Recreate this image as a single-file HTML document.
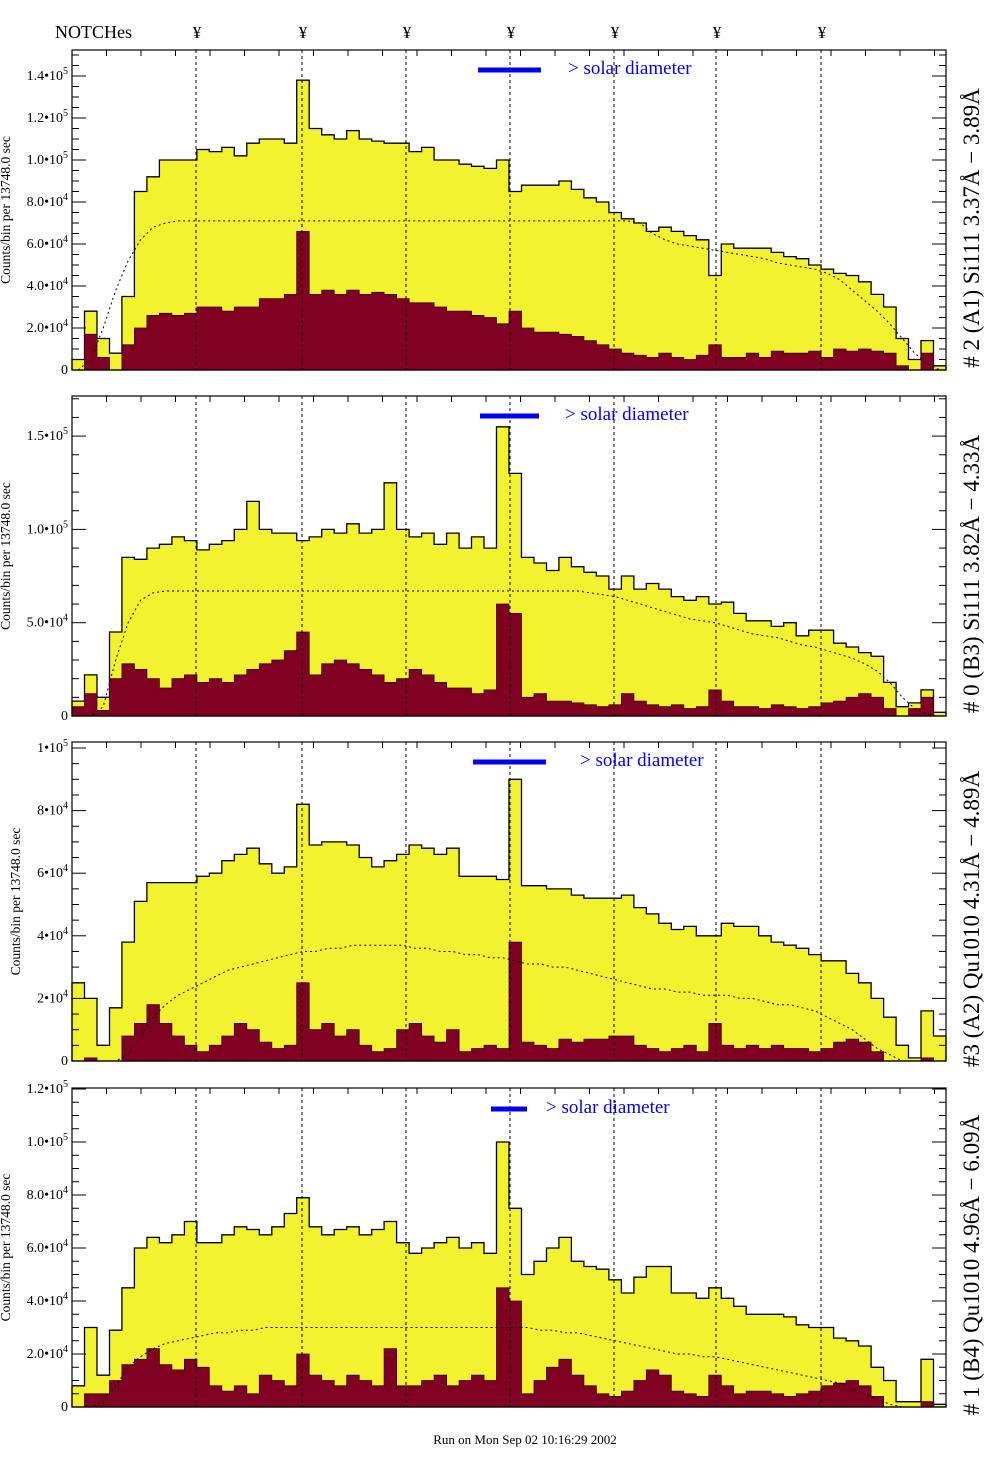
<!DOCTYPE html>
<html><head><meta charset="utf-8"><style>
html,body{margin:0;padding:0;background:#fff;}
svg{display:block;font-family:"Liberation Serif",serif;}
</style></head><body>
<svg id="chart" width="1004" height="1477" viewBox="0 0 1004 1477" xmlns="http://www.w3.org/2000/svg">
<text x="55" y="38" font-size="18">NOTCHes</text>
<text x="525" y="1444" font-size="13" text-anchor="middle">Run on Mon Sep 02 10:16:29 2002</text>
</svg>
<script>
const binCount = 70;
const notchPositions = [196, 302, 406, 510, 614, 716, 821];
const yellow1 = [5,28,15,8,35,85,92,100,100,100,105,104,106,102,108,110,110,108,138,115,112,110,114,110,109,108,108,104,106,100,100,98,97,96,100,85,88,88,88,90,86,82,80,75,72,70,66,68,66,64,62,45,60,58,58,58,56,54,53,50,48,46,45,42,36,30,15,5,14,2];
const red1 = [0,17,6,0,12,20,26,27,26,27,30,30,28,30,30,34,34,36,66,36,38,36,38,36,37,36,34,32,32,30,28,28,26,25,22,28,20,18,18,17,16,14,12,10,8,7,6,8,6,5,7,12,6,6,8,6,9,8,8,9,6,10,9,10,9,8,2,0,8,0];
const model1 = [0,5,20,38,52,62,68,70,71,71,71,71,71,71,71,71,71,71,71,71,71,71,71,71,71,71,71,71,71,71,71,71,71,71,71,71,71,71,71,71,71,71,71,71,71,70,65,62,60,59,58,57,56,55,54,53,51,50,49,48,46,43,38,33,28,22,15,8,3,0];
const yellow2 = [8,22,10,45,85,84,90,92,96,94,89,92,94,100,115,100,98,98,94,96,100,98,103,98,100,125,100,96,98,92,98,90,96,90,155,130,85,82,78,85,80,77,75,68,75,68,71,68,64,62,64,60,61,55,51,51,48,50,43,46,46,39,37,34,32,18,5,7,14,2];
const red2 = [5,12,3,20,28,25,20,15,20,22,18,20,18,22,25,28,30,35,45,22,28,30,28,25,22,18,20,25,22,18,15,15,12,14,60,55,10,12,8,8,7,6,5,6,12,8,6,5,6,4,5,14,8,5,5,4,6,5,4,5,7,8,10,12,10,4,0,4,10,0];
const model2 = [0,0,5,30,50,62,66,67,67,67,67,67,67,67,67,67,67,67,67,67,67,67,67,67,67,67,67,67,67,67,67,67,67,67,67,67,67,67,67,67,67,66,65,64,62,60,58,56,54,52,51,50,48,46,44,43,42,40,38,37,35,33,31,28,24,18,10,4,1,0];
const yellow3 = [25,20,5,17,38,51,57,57,57,57,59,60,64,66,68,63,60,62,82,69,70,70,69,65,62,64,66,69,68,66,68,59,59,59,58,90,56,56,55,55,53,52,52,52,53,49,47,44,42,43,40,40,44,43,43,40,38,37,36,34,32,32,28,25,20,14,5,1,16,8];
const red3 = [0,1,0,0,8,12,18,12,8,5,3,5,8,12,10,6,4,5,25,10,12,8,10,5,3,4,10,12,8,6,10,3,4,5,4,38,6,5,4,7,6,7,7,8,8,5,4,3,4,5,3,12,5,4,5,4,5,4,4,3,4,6,7,6,3,0,0,0,1,0];
const model3 = [0,0,0,0,2,8,14,18,21,23,25,27,29,30,31,32,33,34,35,35,36,36,37,37,37,37,37,36,36,35,35,34,34,33,33,32,31,31,30,30,29,28,27,26,25,24,23,23,22,22,21,21,21,20,20,19,18,18,17,16,14,12,10,7,4,2,0,0,0,0];
const yellow4 = [8,30,12,29,45,60,64,62,65,70,62,62,65,68,67,65,68,73,79,68,65,67,68,65,67,70,62,58,60,62,64,60,62,58,100,75,50,55,60,64,55,53,52,48,43,49,53,53,43,43,41,45,41,38,35,35,35,34,31,30,30,26,25,23,15,10,2,2,18,1];
const red4 = [0,5,5,10,16,18,22,16,14,18,15,8,6,8,5,12,10,8,20,12,10,8,12,10,8,22,8,8,10,12,8,10,12,10,45,40,5,10,15,18,12,8,5,4,6,10,14,12,6,5,4,12,8,5,6,6,5,4,5,6,8,9,10,8,4,0,0,0,2,0];
const model4 = [0,0,2,8,15,19,22,24,25,26,27,28,28,29,29,30,30,30,30,30,30,30,30,30,30,30,30,30,30,30,30,30,30,30,30,30,30,29,29,28,28,27,26,25,24,23,22,21,20,20,19,19,18,17,16,15,14,13,12,11,10,9,7,5,3,1,0,0,0,0];
const ticks1 = [0,20,40,60,80,100,120,140];
const tickLabels1 = ["0","2.0•10|4","4.0•10|4","6.0•10|4","8.0•10|4","1.0•10|5","1.2•10|5","1.4•10|5"];
const ticks2 = [0,50,100,150];
const tickLabels2 = ["0","5.0•10|4","1.0•10|5","1.5•10|5"];
const ticks3 = [0,20,40,60,80,100];
const tickLabels3 = ["0","2•10|4","4•10|4","6•10|4","8•10|4","1•10|5"];
const ticks4 = [0,20,40,60,80,100,120];
const tickLabels4 = ["0","2.0•10|4","4.0•10|4","6.0•10|4","8.0•10|4","1.0•10|5","1.2•10|5"];
const panelTitles = ["# 2 (A1) Si111  3.37Å − 3.89Å","# 0 (B3) Si111  3.82Å − 4.33Å","#3 (A2) Qu1010  4.31Å − 4.89Å","# 1 (B4) Qu1010 4.96Å − 6.09Å"];

const NS="http://www.w3.org/2000/svg";
const svg=document.getElementById('chart');
const X0=72, X1=946;
const panels=[
 {top:50,bottom:370,k:2.1,yel:yellow1,red:red1,mod:model1,ticks:ticks1,labels:tickLabels1,minor:5,bar:[478,541],barY:70,solarX:568,ytx:10,rtx:979},
 {top:396,bottom:716,k:1.866,yel:yellow2,red:red2,mod:model2,ticks:ticks2,labels:tickLabels2,minor:10,bar:[480,539],barY:416,solarX:565,ytx:10,rtx:979},
 {top:742,bottom:1061,k:3.13,yel:yellow3,red:red3,mod:model3,ticks:ticks3,labels:tickLabels3,minor:5,bar:[473,546],barY:762,solarX:580,ytx:20,rtx:979},
 {top:1088,bottom:1407,k:2.65,yel:yellow4,red:red4,mod:model4,ticks:ticks4,labels:tickLabels4,minor:5,bar:[491,527],barY:1109,solarX:546,ytx:10,rtx:979}
];
function el(tag,attrs,parent){const e=document.createElementNS(NS,tag);for(const a in attrs)e.setAttribute(a,attrs[a]);(parent||svg).appendChild(e);return e;}
function xScale(i){return X0+i*(X1-X0)/binCount;}
notchPositions.forEach((nx)=>{
 const t=el('text',{x:nx+1,y:38,'font-size':17,'text-anchor':'middle'});
 
 
 t.textContent='¥';
});
panels.forEach((p,pi)=>{
 const yS=v=>Math.max(p.top,p.bottom-v*p.k);
 const g=el('g',{});
 
 
 function stepPath(arr){let d='M'+X0+','+p.bottom;arr.forEach((v,i)=>{d+=' L'+xScale(i).toFixed(1)+','+yS(v).toFixed(1)+' L'+xScale(i+1).toFixed(1)+','+yS(v).toFixed(1);});d+=' L'+X1+','+p.bottom+' Z';return d;}
 const yp=el('path',{d:stepPath(p.yel),fill:'#f2f22e',stroke:'#000','stroke-width':1.3},g);
 
 
 const rp=el('path',{d:stepPath(p.red),fill:'#800022',stroke:'#3a0010','stroke-width':0.8},g);
 
 
 let md='';p.mod.forEach((v,i)=>{md+=(i?' L':'M')+(xScale(i)+6.2).toFixed(1)+','+yS(v).toFixed(1);});
 const ml=el('path',{d:md,fill:'none',stroke:'#000','stroke-width':1,'stroke-dasharray':'2,3'},g);
 
 
 notchPositions.forEach(nx=>{
  const l=el('line',{x1:nx,x2:nx,y1:p.top,y2:p.bottom,stroke:'#000','stroke-width':1,'stroke-dasharray':'3,3'},g);
  
  
 });
 const fr=el('rect',{x:X0,y:p.top,width:X1-X0,height:p.bottom-p.top,fill:'none',stroke:'#000','stroke-width':1.2},g);
 
 
 const topV=(p.bottom-p.top)/p.k;
 for(let v=0;v<=topV;v+=p.minor){
  const major=p.ticks.indexOf(v)>=0;const L=major?14:7;const y=p.bottom-v*p.k;
  const t1=el('line',{x1:X0,x2:X0+L,y1:y,y2:y,stroke:'#000','stroke-width':1},g);
  
  
  const t2=el('line',{x1:X1,x2:X1-L,y1:y,y2:y,stroke:'#000','stroke-width':1},g);
  
  
 }
 for(let x=X0+34.5;x<X1;x+=34.5){
  const t=el('line',{x1:x,x2:x,y1:p.top,y2:p.top+6,stroke:'#000','stroke-width':1},g);
  
  
 }
 p.ticks.forEach((v,ti)=>{
  const y=p.bottom-v*p.k;
  const lab=p.labels[ti];
  const tx=el('text',{x:68,y:y+4,'font-size':14,'text-anchor':'end'},g);
  
  
  if(lab.indexOf('|')>=0){const parts=lab.split('|');
   const a=el('tspan',{},tx);a.textContent=parts[0];
   const b=el('tspan',{dy:-6,'font-size':10},tx);b.textContent=parts[1];}
  else tx.textContent=lab;
 });
 const cy=(p.top+p.bottom)/2;
 const yt=el('text',{x:p.ytx,y:cy,'font-size':13.5,'text-anchor':'middle',transform:'rotate(-90 '+p.ytx+' '+cy+')','xml:space':'preserve'},g);
 
 
 yt.textContent='Counts/bin per  13748.0 sec';
 const rcy=p.bottom-142;
 const rt=el('text',{x:p.rtx,y:rcy,'font-size':23,'text-anchor':'middle',transform:'rotate(-90 '+p.rtx+' '+rcy+')','xml:space':'preserve'},g);
 
 
 rt.textContent=panelTitles[pi];
 const br=el('rect',{x:p.bar[0],y:p.barY-2.5,width:p.bar[1]-p.bar[0],height:5,fill:'#0000ee'},g);
 
 
 const st=el('text',{x:p.solarX,y:p.barY+4,'font-size':19,fill:'#0000ee'},g);
 
 
 st.textContent='> solar diameter';
});
</script>
</body></html>
